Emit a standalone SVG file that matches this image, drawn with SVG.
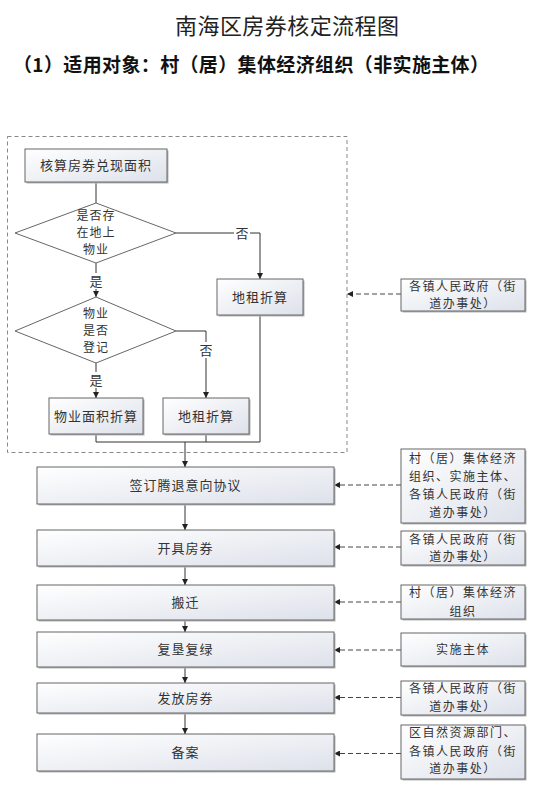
<svg xmlns="http://www.w3.org/2000/svg" width="552" height="785" viewBox="0 0 552 785">
<defs>
<linearGradient id="g" x1="0" y1="0" x2="1" y2="1">
<stop offset="0" stop-color="#ffffff"/>
<stop offset="1" stop-color="#dde1ea"/>
</linearGradient>
<marker id="ah" markerUnits="userSpaceOnUse" markerWidth="6" markerHeight="6" refX="6" refY="3" orient="auto">
<path d="M0,0 L6,3 L0,6 z" fill="#222"/>
</marker>
</defs>
<style>
text{font-family:"Noto Sans CJK SC","Noto Sans",sans-serif;fill:#333}
.box{fill:url(#g);stroke:#666;stroke-width:1}
.sh{fill:#b5b5b5}
.dia{fill:#fff;stroke:#666;stroke-width:1}
.t{font-size:13px;text-anchor:middle;letter-spacing:1px}
.dt{font-size:12px;text-anchor:middle;letter-spacing:1px}
.r{font-size:12px;text-anchor:middle;letter-spacing:1.5px}
.ln{fill:none;stroke:#333;stroke-width:1}
.da{fill:none;stroke:#444;stroke-width:1;stroke-dasharray:5,3}
.lbl{font-size:13px;text-anchor:middle}
</style>
<rect width="552" height="785" fill="#fff"/>
<text x="287" y="34" font-size="22" text-anchor="middle" textLength="224" lengthAdjust="spacing" style="fill:#222">南海区房券核定流程图</text>
<text x="13" y="72" font-size="19" font-weight="bold" textLength="476" lengthAdjust="spacing" style="fill:#111">（1）适用对象：村（居）集体经济组织（非实施主体）</text>

<rect x="7.5" y="136.5" width="339.5" height="316" fill="none" stroke="#888" stroke-width="1" stroke-dasharray="4,3"/>

<g id="connectors">
<path class="ln" d="M96,182 V203"/>
<path class="ln" d="M176,233 H260 V279" marker-end="url(#ah)"/>
<path class="ln" d="M96,263 V297" marker-end="url(#ah)"/>
<path class="ln" d="M176,331 H206 V398" marker-end="url(#ah)"/>
<path class="ln" d="M96,363 V398" marker-end="url(#ah)"/>
<path class="ln" d="M96,434 V442 H260 V315 M206,434 V442"/>
<path class="ln" d="M185,442 V467" marker-end="url(#ah)"/>
<path class="ln" d="M185,504 V530" marker-end="url(#ah)"/>
<path class="ln" d="M185,566 V585" marker-end="url(#ah)"/>
<path class="ln" d="M185,620 V632" marker-end="url(#ah)"/>
<path class="ln" d="M185,667 V683" marker-end="url(#ah)"/>
<path class="ln" d="M185,713 V734" marker-end="url(#ah)"/>
<path class="da" d="M401,294 H347" marker-end="url(#ah)"/>
<path class="da" d="M401,485 H334" marker-end="url(#ah)"/>
<path class="da" d="M401,547 H334" marker-end="url(#ah)"/>
<path class="da" d="M401,602 H334" marker-end="url(#ah)"/>
<path class="da" d="M401,650 H334" marker-end="url(#ah)"/>
<path class="da" d="M401,697.5 H334" marker-end="url(#ah)"/>
<path class="da" d="M401,753.5 H334" marker-end="url(#ah)"/>
<rect x="234" y="225" width="16" height="16" fill="#fff"/>
<text class="lbl" x="242" y="237.5">否</text>
<rect x="88" y="273" width="16" height="16" fill="#fff"/>
<text class="lbl" x="96" y="285.5">是</text>
<rect x="198" y="342" width="16" height="16" fill="#fff"/>
<text class="lbl" x="206" y="354.5">否</text>
<rect x="88" y="372" width="16" height="16" fill="#fff"/>
<text class="lbl" x="96" y="384.5">是</text>
</g>

<g id="n1"><rect class="sh" x="26.5" y="150.5" width="142" height="33"/><rect class="box" x="25" y="149" width="142" height="33"/><text class="t" x="96" y="170">核算房券兑现面积</text></g>
<g id="d1"><polygon class="dia" points="96,203 176,233 96,263 15,233"/><text class="dt"><tspan x="96" y="220.2">是否存</tspan><tspan x="96" y="237.2">在地上</tspan><tspan x="96" y="254.2">物业</tspan></text></g>
<g id="n2"><rect class="sh" x="218.5" y="280.5" width="86" height="36"/><rect class="box" x="217" y="279" width="86" height="36"/><text class="t" x="260" y="301.5">地租折算</text></g>
<g id="d2"><polygon class="dia" points="96,297 176,331 96,363 15,331"/><text class="dt"><tspan x="96" y="318.2">物业</tspan><tspan x="96" y="335.2">是否</tspan><tspan x="96" y="352.2">登记</tspan></text></g>
<g id="n3"><rect class="sh" x="50.5" y="399.5" width="94" height="36"/><rect class="box" x="49" y="398" width="94" height="36"/><text class="t" x="96" y="420.5">物业面积折算</text></g>
<g id="n4"><rect class="sh" x="164.5" y="399.5" width="86" height="36"/><rect class="box" x="163" y="398" width="86" height="36"/><text class="t" x="206" y="420.5">地租折算</text></g>

<g id="n5"><rect class="sh" x="38.5" y="468.5" width="297" height="37"/><rect class="box" x="37" y="467" width="297" height="37"/><text class="t" x="185.5" y="490">签订腾退意向协议</text></g>
<g id="n6"><rect class="sh" x="38.5" y="531.5" width="297" height="36"/><rect class="box" x="37" y="530" width="297" height="36"/><text class="t" x="185.5" y="552.5">开具房券</text></g>
<g id="n7"><rect class="sh" x="38.5" y="586.5" width="297" height="35"/><rect class="box" x="37" y="585" width="297" height="35"/><text class="t" x="185.5" y="607">搬迁</text></g>
<g id="n8"><rect class="sh" x="38.5" y="633.5" width="297" height="35"/><rect class="box" x="37" y="632" width="297" height="35"/><text class="t" x="185.5" y="654">复垦复绿</text></g>
<g id="n9"><rect class="sh" x="38.5" y="684.5" width="297" height="30"/><rect class="box" x="37" y="683" width="297" height="30"/><text class="t" x="185.5" y="702.5">发放房券</text></g>
<g id="n10"><rect class="sh" x="38.5" y="735.5" width="297" height="37"/><rect class="box" x="37" y="734" width="297" height="37"/><text class="t" x="185.5" y="757">备案</text></g>

<g id="r0"><rect class="sh" x="402.5" y="280.5" width="124" height="32"/><rect class="box" x="401" y="279" width="124" height="32"/><text class="r"><tspan x="463" y="290.7">各镇人民政府（街</tspan><tspan x="463" y="307.7">道办事处）</tspan></text></g>
<g id="r1"><rect class="sh" x="402.5" y="450.5" width="124" height="74"/><rect class="box" x="401" y="449" width="124" height="74"/><text class="r"><tspan x="463" y="463">村（居）集体经济</tspan><tspan x="463" y="481">组织、实施主体、</tspan><tspan x="463" y="499">各镇人民政府（街</tspan><tspan x="463" y="517">道办事处）</tspan></text></g>
<g id="r2"><rect class="sh" x="402.5" y="532.5" width="124" height="34"/><rect class="box" x="401" y="531" width="124" height="34"/><text class="r"><tspan x="463" y="543.7">各镇人民政府（街</tspan><tspan x="463" y="560.7">道办事处）</tspan></text></g>
<g id="r3"><rect class="sh" x="402.5" y="586.5" width="124" height="34"/><rect class="box" x="401" y="585" width="124" height="34"/><text class="r"><tspan x="463" y="597.2">村（居）集体经济</tspan><tspan x="463" y="615.7">组织</tspan></text></g>
<g id="r4"><rect class="sh" x="402.5" y="634.5" width="124" height="33"/><rect class="box" x="401" y="633" width="124" height="33"/><text class="r" x="463" y="653.7">实施主体</text></g>
<g id="r5"><rect class="sh" x="402.5" y="682.5" width="124" height="34"/><rect class="box" x="401" y="681" width="124" height="34"/><text class="r"><tspan x="463" y="693.2">各镇人民政府（街</tspan><tspan x="463" y="711.2">道办事处）</tspan></text></g>
<g id="r6"><rect class="sh" x="402.5" y="726.5" width="124" height="54"/><rect class="box" x="401" y="725" width="124" height="54"/><text class="r"><tspan x="463" y="737.2">区自然资源部门、</tspan><tspan x="463" y="755.7">各镇人民政府（街</tspan><tspan x="463" y="773.2">道办事处）</tspan></text></g>
</svg>
